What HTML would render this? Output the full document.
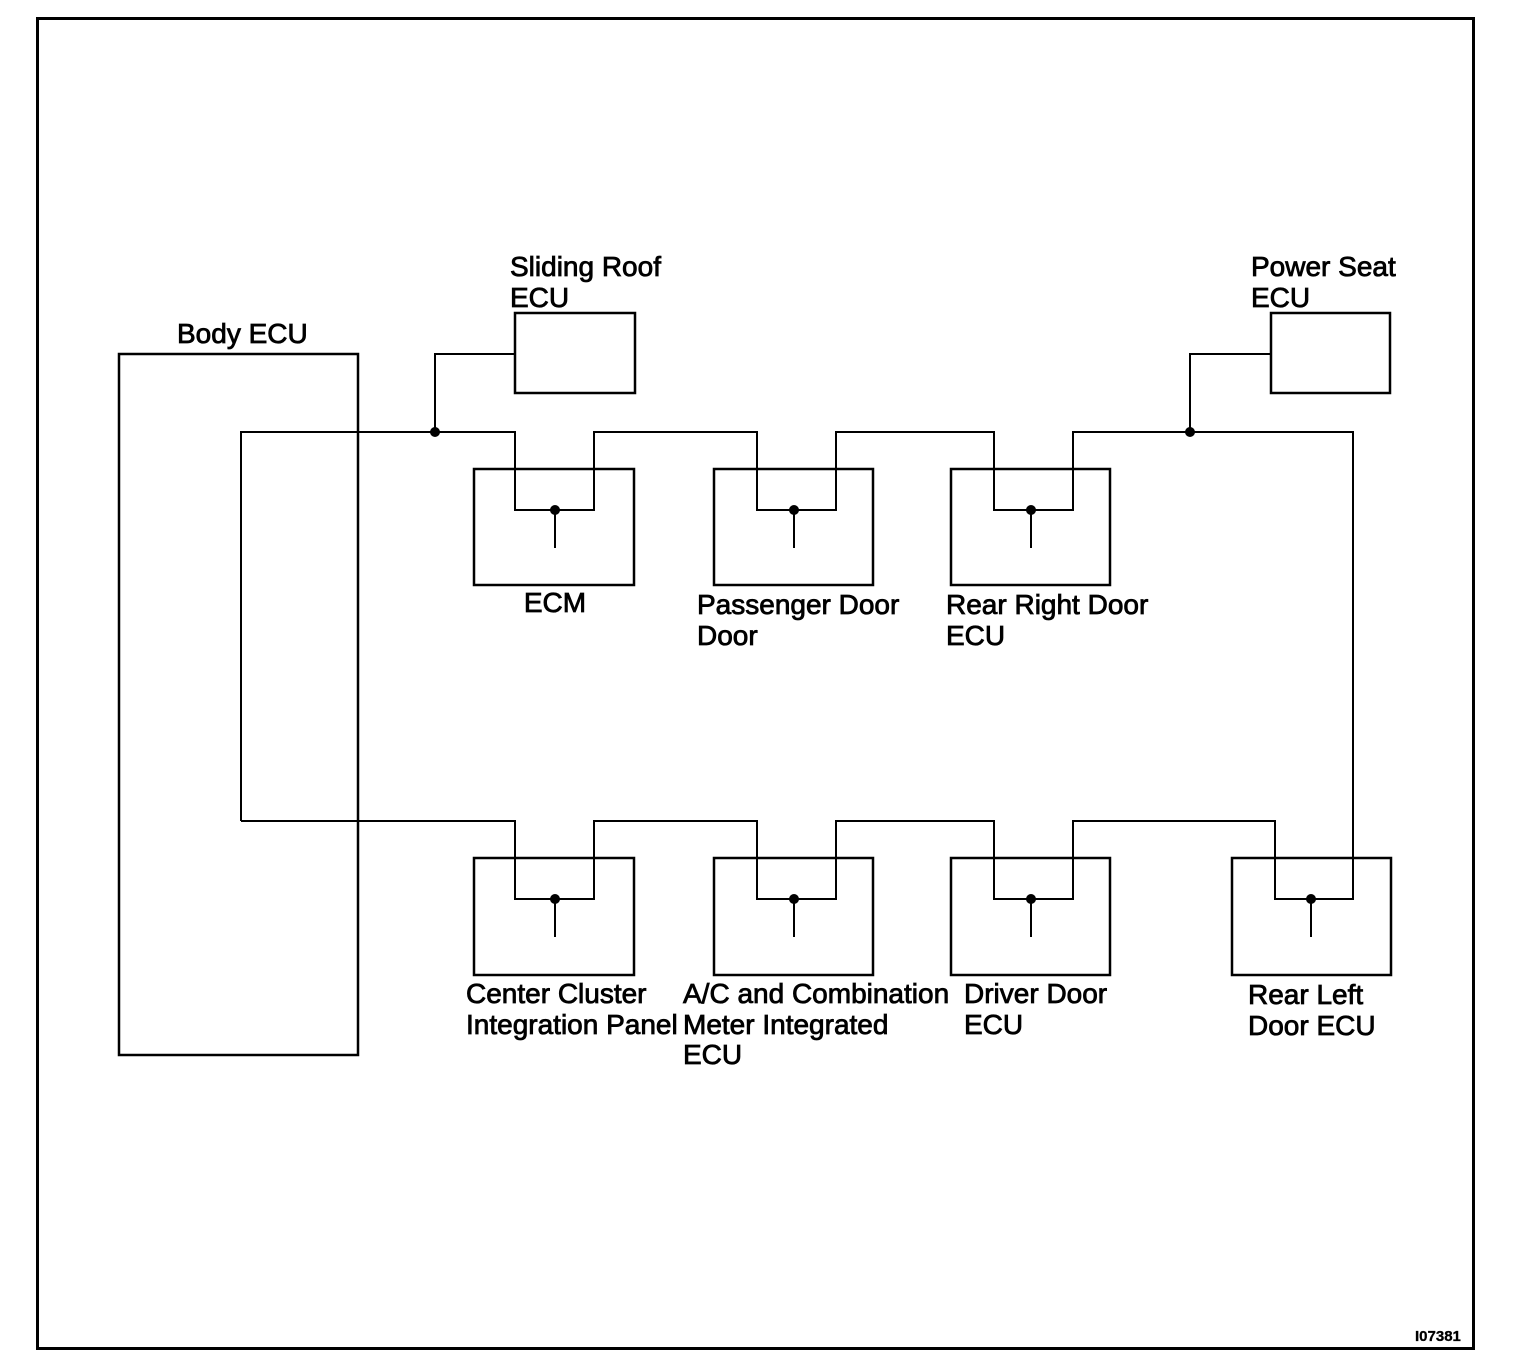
<!DOCTYPE html>
<html><head><meta charset="utf-8"><style>
html,body{margin:0;padding:0;background:#fff}
svg{display:block}
text{font-family:"Liberation Sans",Arial,sans-serif;font-size:28px;fill:#000;stroke:#000;stroke-width:0.8}
</style></head><body>
<svg width="1536" height="1366" viewBox="0 0 1536 1366" xmlns="http://www.w3.org/2000/svg">
<g fill="none" stroke="#000">
<rect x="37.5" y="18.5" width="1436" height="1330" stroke-width="3"/>
<rect x="119" y="354" width="239" height="701" stroke-width="2.5"/>
<rect x="515" y="313" width="120" height="80" stroke-width="2.5"/>
<rect x="1271" y="313" width="119" height="80" stroke-width="2.5"/>
<rect x="474" y="469" width="160" height="116" stroke-width="2.5"/>
<rect x="714" y="469" width="159" height="116" stroke-width="2.5"/>
<rect x="951" y="469" width="159" height="116" stroke-width="2.5"/>
<rect x="474" y="858" width="160" height="117" stroke-width="2.5"/>
<rect x="714" y="858" width="159" height="117" stroke-width="2.5"/>
<rect x="951" y="858" width="159" height="117" stroke-width="2.5"/>
<rect x="1232" y="858" width="159" height="117" stroke-width="2.5"/>
<path stroke-width="2" d="M241 821 V432 H515 V510 H594 V432 H757 V510 H836 V432 H994 V510 H1073 V432 H1353 V899 H1275 V821 H1073 V899 H994 V821 H836 V899 H757 V821 H594 V899 H515 V821 H241"/>
<path stroke-width="2" d="M435 432 V354 H515 M1190 432 V354 H1271"/>
<path stroke-width="2" d="M555 510 V548 M794 510 V548 M1031 510 V548 M555 899 V937 M794 899 V937 M1031 899 V937 M1311 899 V937"/>
</g>
<g fill="#000">
<circle cx="435" cy="432" r="5"/><circle cx="1190" cy="432" r="5"/>
<circle cx="555" cy="510" r="5"/><circle cx="794" cy="510" r="5"/><circle cx="1031" cy="510" r="5"/>
<circle cx="555" cy="899" r="5"/><circle cx="794" cy="899" r="5"/><circle cx="1031" cy="899" r="5"/><circle cx="1311" cy="899" r="5"/>
</g>
<text x="177" y="343">Body ECU</text>
<text x="510" y="276">Sliding Roof</text><text x="510" y="307">ECU</text>
<text x="1251" y="276">Power Seat</text><text x="1251" y="307">ECU</text>
<text x="555" y="612" text-anchor="middle">ECM</text>
<text x="697" y="614">Passenger Door</text><text x="697" y="645">Door</text>
<text x="946" y="614">Rear Right Door</text><text x="946" y="645">ECU</text>
<text x="466" y="1003">Center Cluster</text><text x="466" y="1034">Integration Panel</text>
<text x="683" y="1003">A/C and Combination</text><text x="683" y="1034">Meter Integrated</text><text x="683" y="1064">ECU</text>
<text x="964" y="1003">Driver Door</text><text x="964" y="1034">ECU</text>
<text x="1248" y="1004">Rear Left</text><text x="1248" y="1035">Door ECU</text>
<text x="1415" y="1341" style="font-size:15px;font-weight:bold;stroke-width:0.3">I07381</text>
</svg>
</body></html>
